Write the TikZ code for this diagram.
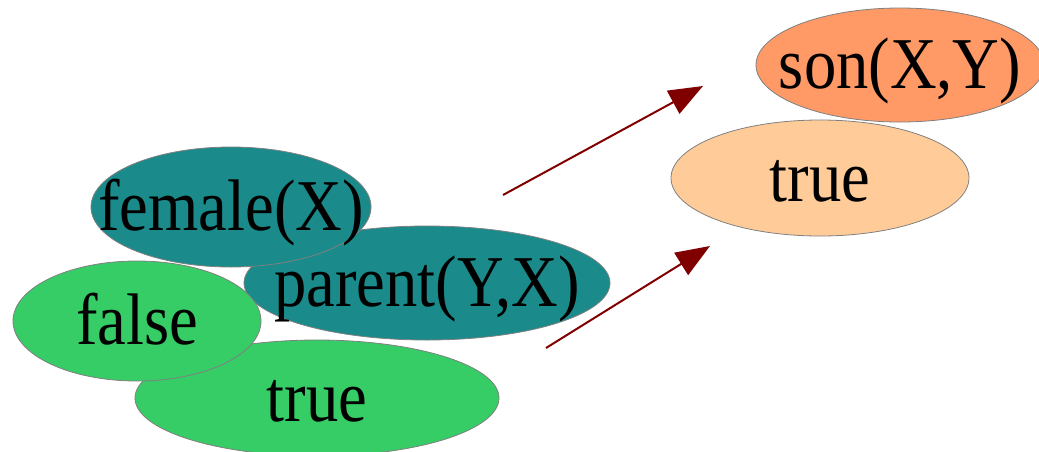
\documentclass[tikz,border=0pt]{standalone}
\usepackage{fontspec}
\setmainfont[FakeStretch=0.885]{Liberation Serif}
\usetikzlibrary{shapes.geometric,arrows.meta}
\definecolor{tealc}{RGB}{26,138,138}
\definecolor{greenc}{RGB}{54,204,102}
\definecolor{orangec}{RGB}{255,153,102}
\definecolor{lightor}{RGB}{255,204,153}
\definecolor{arrc}{RGB}{128,0,0}
\newcommand{\zt}[1]{\makebox[0pt][c]{#1}}
\begin{document}
\begin{tikzpicture}[x=1pt,y=-1pt,
  blob/.style={ellipse,draw=gray,line width=0.8pt,inner sep=0pt,
    text height=47pt,text depth=0pt,
    font=\fontsize{73}{73}\selectfont,text=black},
  flow/.style={draw=arrc,line width=2pt,-{Triangle[length=34pt,width=26pt]}}]
\useasboundingbox (0,0) rectangle (1039,451);
\node[blob,fill=greenc,minimum width=364pt,minimum height=116pt] (t1) at (317,398) {\zt{true}};
\node[blob,fill=tealc,minimum width=366pt,minimum height=114pt] (par) at (427,283) {\zt{parent(Y,X)}};
\node[blob,fill=tealc,minimum width=280pt,minimum height=120pt] (fem) at (231,207) {\zt{female(X)}};
\node[blob,fill=greenc,minimum width=248pt,minimum height=120pt] (fal) at (137,321) {\zt{false}};
\node[blob,fill=orangec,minimum width=288pt,minimum height=114pt] (son) at (900,65) {\zt{son(X,Y)}};
\node[blob,fill=lightor,minimum width=298pt,minimum height=116pt] (t2) at (820,178) {\zt{true}};
\coordinate (a1s) at (503,195);
\coordinate (a1e) at (703,86);
\coordinate (a2s) at (546,348);
\coordinate (a2e) at (710,246);
\draw[flow] (a1s) -- (a1e);
\draw[flow] (a2s) -- (a2e);
\end{tikzpicture}
\end{document}
